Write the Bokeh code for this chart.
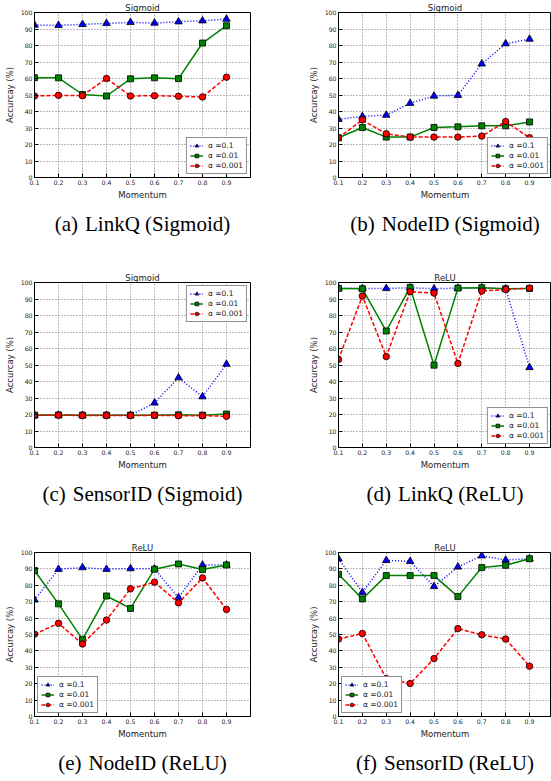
from bokeh.plotting import figure
from bokeh.models import (Range1d, FixedTicker, Legend, LegendItem,
                          Title, PrintfTickFormatter)
from bokeh.layouts import row, column
from bokeh.embed import file_html
from bokeh.resources import INLINE

# ---------------- data ----------------
momentum = [0.1, 0.2, 0.3, 0.4, 0.5, 0.6, 0.7, 0.8, 0.9]
x_ticks = [0.1, 0.2, 0.3, 0.4, 0.5, 0.6, 0.7, 0.8, 0.9]
y_ticks = [0, 10, 20, 30, 40, 50, 60, 70, 80, 90, 100]
series_labels = ["\u03b1 =0.1", "\u03b1 =0.01", "\u03b1 =0.001"]

linkq_sigmoid_01 = [92.4, 92.2, 92.8, 93.4, 94.0, 93.6, 94.4, 95.0, 96.0]
linkq_sigmoid_001 = [60.5, 60.4, 50.3, 49.4, 59.8, 60.4, 59.9, 81.5, 92.0]
linkq_sigmoid_0001 = [49.4, 49.8, 49.6, 60.0, 49.4, 49.6, 49.2, 48.8, 60.8]

nodeid_sigmoid_01 = [35.3, 37.0, 37.8, 45.0, 49.4, 49.8, 68.9, 81.1, 83.9]
nodeid_sigmoid_001 = [24.1, 30.3, 24.5, 24.5, 30.3, 30.7, 31.3, 31.3, 33.7]
nodeid_sigmoid_0001 = [24.1, 34.9, 26.5, 24.5, 24.5, 24.5, 25.1, 33.9, 24.1]

sensorid_sigmoid_01 = [19.6, 19.6, 19.5, 19.5, 19.5, 27.0, 42.3, 30.8, 50.5]
sensorid_sigmoid_001 = [19.6, 19.7, 19.6, 19.6, 19.6, 19.6, 19.8, 19.6, 20.3]
sensorid_sigmoid_0001 = [19.5, 19.6, 19.4, 19.4, 19.4, 19.5, 19.3, 19.3, 18.9]

linkq_relu_01 = [96.6, 96.4, 96.4, 96.8, 96.2, 96.6, 96.8, 96.2, 48.5]
linkq_relu_001 = [96.4, 96.2, 70.6, 97.0, 49.9, 96.6, 96.8, 96.2, 96.4]
linkq_relu_0001 = [53.3, 91.8, 55.1, 94.4, 93.6, 50.9, 94.8, 95.8, 96.6]

nodeid_relu_01 = [71.1, 89.8, 90.8, 89.8, 90.2, 90.0, 72.5, 92.4, 92.4]
nodeid_relu_001 = [89.0, 68.7, 47.0, 73.5, 65.9, 89.8, 93.0, 89.6, 92.4]
nodeid_relu_0001 = [50.2, 56.8, 44.2, 58.8, 77.9, 81.9, 69.3, 84.5, 65.3]

sensorid_relu_01 = [96.2, 75.7, 95.2, 94.6, 79.3, 91.2, 98.0, 95.4, 96.2]
sensorid_relu_001 = [86.7, 71.7, 85.9, 85.9, 85.9, 73.1, 90.8, 92.2, 96.2]
sensorid_relu_0001 = [47.2, 50.6, 23.1, 20.1, 35.3, 53.6, 49.8, 47.2, 30.7]

panel_titles = ["Sigmoid", "Sigmoid", "Sigmoid", "ReLU", "ReLU", "ReLU"]
captions = ["(a)\u2004LinkQ (Sigmoid)", "(b)\u2004NodeID (Sigmoid)",
            "(c)\u2004SensorID (Sigmoid)", "(d)\u2004LinkQ (ReLU)",
            "(e)\u2004NodeID (ReLU)", "(f)\u2004SensorID (ReLU)"]
x_label = "Momentum"
y_label = "Accurcay (%)"

panels = [
    (linkq_sigmoid_01, linkq_sigmoid_001, linkq_sigmoid_0001),
    (nodeid_sigmoid_01, nodeid_sigmoid_001, nodeid_sigmoid_0001),
    (sensorid_sigmoid_01, sensorid_sigmoid_001, sensorid_sigmoid_0001),
    (linkq_relu_01, linkq_relu_001, linkq_relu_0001),
    (nodeid_relu_01, nodeid_relu_001, nodeid_relu_0001),
    (sensorid_relu_01, sensorid_relu_001, sensorid_relu_0001),
]
legend_locs = ["bottom_right", "bottom_right", "top_right",
               "bottom_right", "bottom_left", "bottom_left"]

# ---------------- styles ----------------
AX_FONT = "DejaVu Sans"
styles = [
    dict(color="#0000ff", dash="1 2", marker="triangle", size=7.5),
    dict(color="#008000", dash="solid", marker="square", size=6),
    dict(color="#ff0000", dash="4 2", marker="circle", size=6.5),
]

# row geometry: (figure height, border top, border bottom)
row_geo = [(255, 11, 78), (270, 27, 78), (256, 27, 63)]


def make_panel(idx):
    r = idx // 2
    left_col = (idx % 2 == 0)
    h, bt, bb = row_geo[r]
    if left_col:
        w, bl, br, xend = 275, 34, 25, 1.0
    else:
        w, bl, br, xend = 276, 63, 0, 0.992
    p = figure(width=w, height=h, output_backend="svg", toolbar_location=None,
               x_range=Range1d(0.1, xend), y_range=Range1d(0, 100),
               min_border_left=bl, min_border_right=br,
               min_border_top=bt, min_border_bottom=bb,
               background_fill_color="white", border_fill_color="white")
    p.outline_line_color = "black"
    p.outline_line_width = 1

    # title
    p.title.text = panel_titles[idx]
    p.title.align = "center"
    p.title.text_font = AX_FONT
    p.title.text_font_size = "8.5px"
    p.title.text_font_style = "normal"
    p.title.text_color = "#222222"
    p.title.standoff = 0

    # axes
    for ax in (p.xaxis[0], p.yaxis[0]):
        ax.major_label_text_font = AX_FONT
        ax.major_label_text_font_size = "6.2px"
        ax.major_label_text_color = "#222222"
        ax.axis_label_text_font = AX_FONT
        ax.axis_label_text_font_size = "8.5px"
        ax.axis_label_text_font_style = "normal"
        ax.axis_label_text_color = "#222222"
        ax.major_tick_in = 4
        ax.major_tick_out = 0
        ax.minor_tick_in = 0
        ax.minor_tick_out = 0
        ax.axis_line_color = "black"
        ax.major_tick_line_color = "black"
        ax.major_label_standoff = 2
        ax.axis_label_standoff = 2
    p.xaxis[0].ticker = FixedTicker(ticks=x_ticks)
    p.xaxis[0].formatter = PrintfTickFormatter(format="%.1f")
    p.xaxis[0].axis_label = x_label
    p.yaxis[0].ticker = FixedTicker(ticks=y_ticks)
    p.yaxis[0].axis_label = y_label
    p.yaxis[0].axis_label_standoff = 3

    # grid
    p.xgrid.ticker = FixedTicker(ticks=x_ticks)
    p.ygrid.ticker = FixedTicker(ticks=y_ticks)
    for g in (p.xgrid, p.ygrid):
        g.grid_line_color = "black"
        g.grid_line_dash = "1 2"
        g.grid_line_width = 0.7
        g.grid_line_alpha = 0.75

    items = []
    for values, st, lab in zip(panels[idx], styles, series_labels):
        lr = p.line(momentum, values, line_color=st["color"], line_width=1.5,
                    line_dash=st["dash"])
        sr = p.scatter(momentum, values, marker=st["marker"], size=st["size"],
                       fill_color=st["color"], line_color="black", line_width=0.8)
        items.append(LegendItem(label=lab, renderers=[lr, sr]))

    leg = Legend(items=items, location=legend_locs[idx])
    leg.label_text_font = AX_FONT
    leg.label_text_font_size = "7.5px"
    leg.label_text_color = "#222222"
    leg.glyph_width = 13
    leg.glyph_height = 9
    leg.label_height = 9
    leg.label_standoff = 5
    leg.padding = 3
    leg.spacing = 1
    leg.margin = 3
    leg.border_line_color = "#222222"
    leg.border_line_width = 1.2
    leg.background_fill_color = "white"
    leg.background_fill_alpha = 1
    p.add_layout(leg)

    cap = Title(text=captions[idx], align="center", text_font="Liberation Serif",
                text_font_size="21px", text_font_style="normal", text_color="black",
                standoff=14)
    p.add_layout(cap, "below")
    return p


figs = [make_panel(i) for i in range(6)]
layout = column(row(figs[0], figs[1]), row(figs[2], figs[3]), row(figs[4], figs[5]))

open("out.html", "w").write(file_html(layout, INLINE))
